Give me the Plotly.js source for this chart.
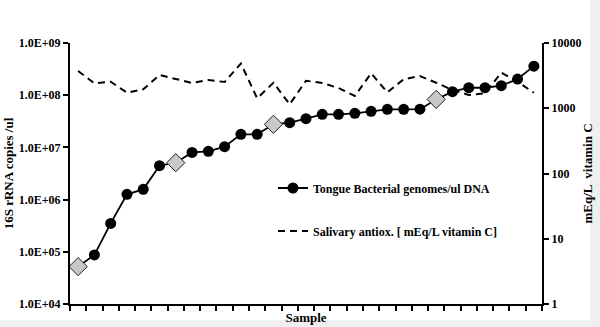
<!DOCTYPE html>
<html>
<head>
<meta charset="utf-8">
<script src="https://cdn.plot.ly/plotly-3.0.1.min.js"></script>
<style>html,body{margin:0;padding:0;background:#fff;}#chart{width:600px;height:327px;}</style>
</head>
<body>
<div id="chart"></div>
<script>
// Samples (categories)
const samples = ["S1","S2","S3","S4","S5","S6","S7","S8","S9","S10","S11","S12","S13","S14","S15",
  "S16","S17","S18","S19","S20","S21","S22","S23","S24","S25","S26","S27","S28","S29"];
// Tongue bacterial genomes/ul DNA (16S rRNA copies/ul)
const bacterial = [5.2e4, 8.7e4, 3.5e5, 1.26e6, 1.57e6, 4.46e6, 5.1e6, 8.0e6, 8.4e6, 1.03e7,
  1.78e7, 1.78e7, 2.77e7, 2.97e7, 3.55e7, 4.3e7, 4.3e7, 4.5e7, 4.9e7, 5.37e7,
  5.37e7, 5.4e7, 8.3e7, 1.17e8, 1.39e8, 1.39e8, 1.52e8, 2.04e8, 3.6e8];
// Samples highlighted with grey diamonds (0-based indices)
const diamondIdx = [0, 6, 12, 22];
// Salivary antioxidants (mEq/L vitamin C)
const antiox = [3720, 2410, 2550, 1730, 1950, 3230, 2810, 2440, 2710, 2525,
  4850, 1420, 2460, 1150, 2640, 2440, 2040, 1540, 3430, 1755,
  2780, 3120, 2460, 1905, 1600, 1695, 3510, 2550, 1730];
// Tick labels
const leftTickVals = [1e4, 1e5, 1e6, 1e7, 1e8, 1e9];
const leftTickText = ["1.0E+04", "1.0E+05", "1.0E+06", "1.0E+07", "1.0E+08", "1.0E+09"];
const rightTickVals = [1, 10, 100, 1000, 10000];
const rightTickText = ["1", "10", "100", "1000", "10000"];

const serif = "Liberation Serif, Times New Roman, serif";
const bold = arr => arr.map(s => "<b>" + s + "</b>");

const traces = [
  {
    x: samples, y: bacterial, type: "scatter", mode: "lines+markers",
    name: "<b>Tongue Bacterial genomes/ul DNA</b>",
    line: {color: "#000", width: 1.8},
    marker: {symbol: "circle", size: 11, color: "#000"},
    legendgroup: "a", yaxis: "y"
  },
  {
    x: diamondIdx.map(i => samples[i]), y: diamondIdx.map(i => bacterial[i]),
    type: "scatter", mode: "markers", showlegend: false, hoverinfo: "skip",
    marker: {symbol: "diamond", size: 14, color: "#c8c8c8", line: {color: "#222", width: 1}},
    yaxis: "y"
  },
  {
    x: samples, y: antiox, type: "scatter", mode: "lines",
    name: "<b>Salivary antiox. [ mEq/L vitamin C]</b>",
    line: {color: "#000", width: 2, dash: "7px,5px"},
    legendgroup: "b", yaxis: "y2"
  }
];

const layout = {
  width: 600, height: 327,
  margin: {l: 70, r: 58, t: 43, b: 23},
  paper_bgcolor: "#fff", plot_bgcolor: "#fff",
  font: {family: serif, color: "#000", size: 12},
  showlegend: true,
  legend: {
    x: 0.43, y: 0.5, xanchor: "left", yanchor: "top",
    bgcolor: "rgba(0,0,0,0)", tracegroupgap: 24,
    font: {family: serif, size: 12, color: "#000"}
  },
  xaxis: {
    type: "category", range: [-0.5, 28.5], dtick: 1,
    showticklabels: false, ticks: "outside", tickson: "boundaries",
    ticklen: 5, tickwidth: 2, tickcolor: "#000",
    showline: true, linecolor: "#000", linewidth: 2, showgrid: false, zeroline: false,
    title: {text: "<b>Sample</b>", font: {family: serif, size: 13}, standoff: 8},
    automargin: false
  },
  yaxis: {
    type: "log", range: [4, 9], tickvals: leftTickVals, ticktext: bold(leftTickText),
    tickfont: {family: serif, size: 12}, ticks: "outside", ticklen: 5, tickwidth: 2, tickcolor: "#000",
    showline: true, linecolor: "#000", linewidth: 2, showgrid: false, zeroline: false,
    title: {text: "<b>16S rRNA copies /ul</b>", font: {family: serif, size: 13}, standoff: 2},
    automargin: false
  },
  yaxis2: {
    type: "log", range: [0, 4], overlaying: "y", side: "right",
    tickvals: rightTickVals, ticktext: bold(rightTickText),
    tickfont: {family: serif, size: 12}, ticks: "outside", ticklen: 5, tickwidth: 2, tickcolor: "#000",
    showline: true, linecolor: "#000", linewidth: 2, showgrid: false, zeroline: false,
    title: {text: "<b>mEq/L  vitamin C</b>", font: {family: serif, size: 13}, standoff: 2},
    automargin: false
  },
  shapes: [
    {type: "rect", xref: "paper", yref: "paper", x0: 1.102, x1: 1.13, y0: -0.1, y1: 3, fillcolor: "#efefef", line: {width: 0}, layer: "below"},
    {type: "rect", xref: "paper", yref: "paper", x0: -0.2, x1: 1.13, y0: -0.062, y1: -0.1, fillcolor: "#efefef", line: {width: 0}, layer: "below"}
  ]
};

Plotly.newPlot("chart", traces, layout, {displayModeBar: false, staticPlot: true});
</script>
</body>
</html>
